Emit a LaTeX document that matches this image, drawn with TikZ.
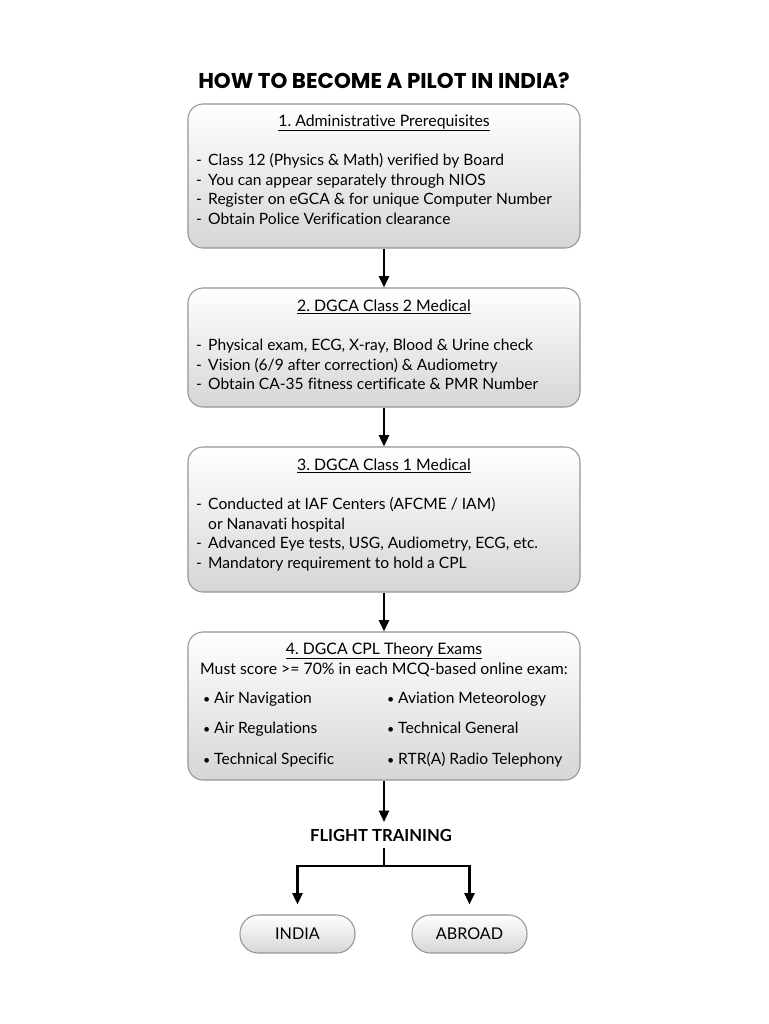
\documentclass[tikz,border=0pt]{standalone}
\usepackage{fontspec}
\setmainfont{Lato}[Ligatures={NoCommon}]
\newfontfamily\titlefont{Poppins}
\usetikzlibrary{arrows.meta}
\frenchspacing
\definecolor{boxline}{HTML}{959595}
\definecolor{boxbot}{HTML}{D6D6D6}
\tikzset{
  stagebox/.style={draw=boxline, line width=0.9pt, rounded corners=4.5mm, top color=white, bottom color=boxbot, inner sep=0pt},
  pillbox/.style={draw=boxline, line width=0.9pt, rounded corners=5.5mm, top color=white, bottom color=boxbot, inner sep=0pt, minimum width=115*0.3mm, minimum height=38*0.3mm, font=\fontsize{13.8}{16}\selectfont},
  headtxt/.style={anchor=base, inner sep=0pt, font=\fontsize{13.5}{16}\selectfont},
  linetxt/.style={anchor=base west, inner sep=0pt, font=\fontsize{13.3}{16}\selectfont},
  flowarrow/.style={line width=2pt, -{Triangle[length=3.4mm,width=3mm]}}
}
\newcommand{\dashitem}[1]{\makebox[3.6mm][l]{-}#1}
\newcommand{\dotitem}[1]{\makebox[3.3mm][l]{\raisebox{-0.5pt}{\scalebox{0.8}{\textbullet}}}#1}
\begin{document}
\begin{tikzpicture}[x=0.3mm, y=-0.3mm]
			%%%%% START %%%%%
			
			\useasboundingbox[fill=white] (0, 0) rectangle (768, 1024);
			
			\node[anchor=base, inner sep=0pt, font=\titlefont\bfseries\fontsize{18.3}{20}\selectfont] (title) at (384, 88) {HOW TO BECOME A PILOT IN INDIA?};
			
			% stage boxes
			\node[stagebox, minimum width=392*0.3mm, minimum height=144*0.3mm] (admin) at (384, 176) {};
			\node[stagebox, minimum width=392*0.3mm, minimum height=119*0.3mm] (medtwo) at (384, 347.5) {};
			\node[stagebox, minimum width=392*0.3mm, minimum height=145*0.3mm] (medone) at (384, 519.5) {};
			\node[stagebox, minimum width=392*0.3mm, minimum height=148*0.3mm] (theory) at (384, 706) {};
			
			% 1
			\node[headtxt] (adminhead) at (384, 126) {\underline{1. Administrative Prerequisites}};
			\node[linetxt] (admina) at (196, 165) {\dashitem{Class 12 (Physics \& Math) verified by Board}};
			\node[linetxt] (adminb) at (196, 185) {\dashitem{You can appear separately through NIOS}};
			\node[linetxt] (adminc) at (196, 204) {\dashitem{Register on eGCA \& for unique Computer Number}};
			\node[linetxt] (admind) at (196, 224) {\dashitem{Obtain Police Verification clearance}};
			
			% 2
			\node[headtxt] (medtwohead) at (384, 311) {\underline{2. DGCA Class 2 Medical}};
			\node[linetxt] (medtwoa) at (196, 350) {\dashitem{Physical exam, ECG, X-ray, Blood \& Urine check}};
			\node[linetxt] (medtwob) at (196, 370) {\dashitem{Vision (6/9 after correction) \& Audiometry}};
			\node[linetxt] (medtwoc) at (196, 389) {\dashitem{Obtain CA-35 fitness certificate \& PMR Number}};
			
			% 3
			\node[headtxt] (medonehead) at (384, 470) {\underline{3. DGCA Class 1 Medical}};
			\node[linetxt] (medonea) at (196, 509) {\dashitem{Conducted at IAF Centers (AFCME / IAM)}};
			\node[linetxt] (medoneb) at (196, 529) {\hspace{3.6mm}or Nanavati hospital};
			\node[linetxt] (medonec) at (196, 548) {\dashitem{Advanced Eye tests, USG, Audiometry, ECG, etc.}};
			\node[linetxt] (medoned) at (196, 568) {\dashitem{Mandatory requirement to hold a CPL}};
			
			% 4
			\node[headtxt] (theoryhead) at (384, 654) {\underline{4. DGCA CPL Theory Exams}};
			\node[headtxt] (theorysub) at (384, 674) {Must score >= 70\% in each MCQ-based online exam:};
			\node[linetxt] (theorya) at (203, 703) {\dotitem{Air Navigation}};
			\node[linetxt] (theoryb) at (203, 733) {\dotitem{Air Regulations}};
			\node[linetxt] (theoryc) at (203, 764) {\dotitem{Technical Specific}};
			\node[linetxt] (theoryd) at (387, 703) {\dotitem{Aviation Meteorology}};
			\node[linetxt] (theorye) at (387, 733) {\dotitem{Technical General}};
			\node[linetxt] (theoryf) at (387, 764) {\dotitem{RTR(A) Radio Telephony}};
			
			% flight training
			\node[anchor=base, inner sep=0pt, font=\bfseries\fontsize{14.2}{16}\selectfont] (training) at (381, 841) {FLIGHT TRAINING};
			\coordinate (split) at (384, 866);
			\node[pillbox] (india) at (297.5, 934) {INDIA};
			\node[pillbox] (abroad) at (469.5, 934) {ABROAD};
			
			% arrows
			\draw[flowarrow] (admin.south) -- (medtwo.north);
			\draw[flowarrow] (medtwo.south) -- (medone.north);
			\draw[flowarrow] (medone.south) -- (theory.north);
			\draw[flowarrow] (theory.south) -- (384, 822);
			\draw[line width=1.4pt] (384, 848) -- (split);
			\draw[flowarrow] (split) -| ([yshift=10*0.3mm]india.north);
			\draw[flowarrow] (split) -| ([yshift=10*0.3mm]abroad.north);
			
			%%%%% END %%%%%
\end{tikzpicture}
\end{document}
